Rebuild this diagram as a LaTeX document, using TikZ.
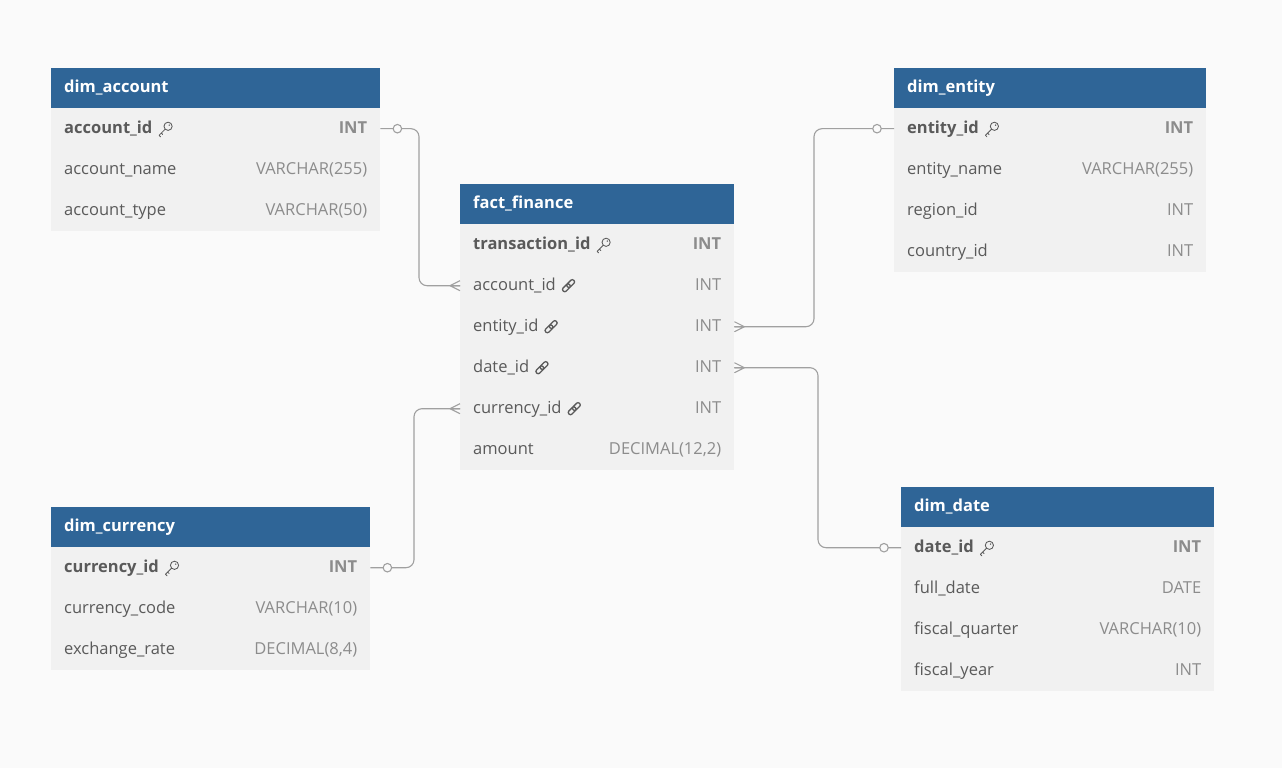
\documentclass[tikz,border=0pt]{standalone}
\usepackage{fontspec}
\setmainfont{Open Sans}
\usetikzlibrary{positioning}

\definecolor{pagebg}{HTML}{FAFAFA}
\definecolor{headblue}{HTML}{2F6597}
\definecolor{rowfill}{HTML}{F1F1F1}
\definecolor{namegray}{HTML}{5A5A5A}
\definecolor{typegray}{HTML}{8C8C8C}
\definecolor{linkgray}{HTML}{A0A0A0}

\tikzset{
  tblhead/.style={rectangle,fill=headblue,anchor=north west,minimum height=40bp,inner sep=0pt},
  tbltitle/.style={text=white,font=\fontsize{16.5bp}{20bp}\selectfont\bfseries,inner sep=0pt,text height=11.8bp,text depth=4bp},
  tblrow/.style={rectangle,fill=rowfill,anchor=north west,minimum height=41bp,inner sep=0pt},
  fname/.style={text=namegray,font=\fontsize{16.5bp}{20bp}\selectfont,inner sep=0pt,text height=11.8bp,text depth=2bp},
  pkname/.style={fname,font=\fontsize{16.5bp}{20bp}\selectfont\bfseries},
  ftype/.style={text=typegray,font=\fontsize{16.5bp}{20bp}\selectfont,inner sep=0pt,text height=11.8bp,text depth=2bp},
  pktype/.style={ftype,font=\fontsize{16.5bp}{20bp}\selectfont\bfseries},
  conn/.style={draw=linkgray,line width=1.1bp,rounded corners=8bp},
  zeroone/.style={circle,draw=linkgray,fill=pagebg,line width=1.1bp,minimum size=8.5bp,inner sep=0pt},
  keyicon/.pic={
    \draw[namegray,line width=0.85bp] (2.4bp,2.4bp) circle (4.1bp);
    \fill[namegray] (3.6bp,3.6bp) circle (0.8bp);
    \draw[namegray,line width=0.85bp,line cap=round,line join=round] (-0.5bp,-0.5bp) -- (-6.6bp,-6.6bp) -- (-5.1bp,-8.1bp) (-4.4bp,-4.4bp) -- (-3bp,-5.8bp);},
  linkicon/.pic={
    \draw[namegray,line width=1.3bp,rounded corners=2bp,rotate=45] (-7.5bp,-2.2bp) rectangle (1.5bp,2.2bp) (-1.5bp,-2.2bp) rectangle (7.5bp,2.2bp);},
  crowfoot/.pic={
    \draw[linkgray,line width=1.1bp] (-10bp,0) -- (0,5bp) (-10bp,0) -- (0,0) (-10bp,0) -- (0,-5bp);}
}

\begin{document}
\begin{tikzpicture}[x=1bp,y=-1bp]
\fill[pagebg] (0,0) rectangle (1282,768);

% dim_account
\node[tblhead,minimum width=329bp] (acc) at (51,68) {};
\node[tbltitle,right=13bp of acc.west] {dim\_account};
\node[tblrow,minimum width=329bp] (acc1) at (51,108) {};
\node[pkname,right=13bp of acc1.west] (accn1) {account\_id};
\node[pktype,left=13bp of acc1.east] {INT};
\pic at ([xshift=13bp]accn1.east) {keyicon};
\foreach \i/\f/\t in {2/account\_name/VARCHAR(255),3/account\_type/VARCHAR(50)}{
  \node[tblrow,minimum width=329bp] (acc\i) at (51,{108+41*(\i-1)}) {};
  \node[fname,right=13bp of acc\i.west] {\f};
  \node[ftype,left=13bp of acc\i.east] {\t};
}

% fact_finance
\node[tblhead,minimum width=274bp] (fact) at (460,184) {};
\node[tbltitle,right=13bp of fact.west] {fact\_finance};
\node[tblrow,minimum width=274bp] (fact1) at (460,224) {};
\node[pkname,right=13bp of fact1.west] (factn1) {transaction\_id};
\node[pktype,left=13bp of fact1.east] {INT};
\pic at ([xshift=13bp]factn1.east) {keyicon};
\foreach \i/\f in {2/account\_id,3/entity\_id,4/date\_id,5/currency\_id}{
  \node[tblrow,minimum width=274bp] (fact\i) at (460,{224+41*(\i-1)}) {};
  \node[fname,right=13bp of fact\i.west] (factn\i) {\f};
  \node[ftype,left=13bp of fact\i.east] {INT};
  \pic at ([xshift=12.5bp]factn\i.east) {linkicon};
}
\node[tblrow,minimum width=274bp] (fact6) at (460,429) {};
\node[fname,right=13bp of fact6.west] {amount};
\node[ftype,left=13bp of fact6.east] {DECIMAL(12,2)};

% dim_entity
\node[tblhead,minimum width=312bp] (ent) at (894,68) {};
\node[tbltitle,right=13bp of ent.west] {dim\_entity};
\node[tblrow,minimum width=312bp] (ent1) at (894,108) {};
\node[pkname,right=13bp of ent1.west] (entn1) {entity\_id};
\node[pktype,left=13bp of ent1.east] {INT};
\pic at ([xshift=13bp]entn1.east) {keyicon};
\foreach \i/\f/\t in {2/entity\_name/VARCHAR(255),3/region\_id/INT,4/country\_id/INT}{
  \node[tblrow,minimum width=312bp] (ent\i) at (894,{108+41*(\i-1)}) {};
  \node[fname,right=13bp of ent\i.west] {\f};
  \node[ftype,left=13bp of ent\i.east] {\t};
}

% dim_currency
\node[tblhead,minimum width=319bp] (cur) at (51,507) {};
\node[tbltitle,right=13bp of cur.west] {dim\_currency};
\node[tblrow,minimum width=319bp] (cur1) at (51,547) {};
\node[pkname,right=13bp of cur1.west] (curn1) {currency\_id};
\node[pktype,left=13bp of cur1.east] {INT};
\pic at ([xshift=13bp]curn1.east) {keyicon};
\foreach \i/\f/\t in {{2/currency\_code/VARCHAR(10)},{3/exchange\_rate/DECIMAL(8,4)}}{
  \node[tblrow,minimum width=319bp] (cur\i) at (51,{547+41*(\i-1)}) {};
  \node[fname,right=13bp of cur\i.west] {\f};
  \node[ftype,left=13bp of cur\i.east] {\t};
}

% dim_date
\node[tblhead,minimum width=313bp] (dat) at (901,487) {};
\node[tbltitle,right=13bp of dat.west] {dim\_date};
\node[tblrow,minimum width=313bp] (dat1) at (901,527) {};
\node[pkname,right=13bp of dat1.west] (datn1) {date\_id};
\node[pktype,left=13bp of dat1.east] {INT};
\pic at ([xshift=13bp]datn1.east) {keyicon};
\foreach \i/\f/\t in {2/full\_date/DATE,3/fiscal\_quarter/VARCHAR(10),4/fiscal\_year/INT}{
  \node[tblrow,minimum width=313bp] (dat\i) at (901,{527+41*(\i-1)}) {};
  \node[fname,right=13bp of dat\i.west] {\f};
  \node[ftype,left=13bp of dat\i.east] {\t};
}

% relations
\draw[conn] (acc1.east) -| ([xshift=-41bp]fact2.west) -- (fact2.west);
\node[zeroone] at ([xshift=17bp]acc1.east) {};
\pic at (fact2.west) {crowfoot};

\draw[conn] (fact3.east) -| ([xshift=-80bp]ent1.west) -- (ent1.west);
\pic[xscale=-1] at (fact3.east) {crowfoot};
\node[zeroone] at ([xshift=-17bp]ent1.west) {};

\draw[conn] (fact4.east) -| ([xshift=-83bp]dat1.west) -- (dat1.west);
\pic[xscale=-1] at (fact4.east) {crowfoot};
\node[zeroone] at ([xshift=-17bp]dat1.west) {};

\draw[conn] (cur1.east) -| ([xshift=-46bp]fact5.west) -- (fact5.west);
\node[zeroone] at ([xshift=17bp]cur1.east) {};
\pic at (fact5.west) {crowfoot};

\end{tikzpicture}
\end{document}
